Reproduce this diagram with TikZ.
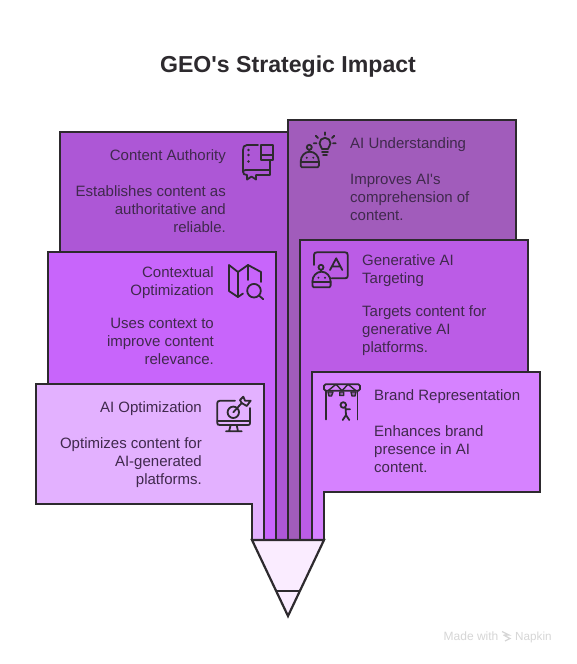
\documentclass[tikz,border=0pt]{standalone}
\usepackage{fontspec}
\setmainfont{Liberation Sans}[Ligatures=TeXOff]
\definecolor{ink}{HTML}{2D2A2E}
\definecolor{txt}{HTML}{40294D}
\definecolor{cAuth}{HTML}{AD57D6}
\definecolor{cUnder}{HTML}{A15CBB}
\definecolor{cCtx}{HTML}{C865FB}
\definecolor{cGen}{HTML}{BB5CE6}
\definecolor{cOpt}{HTML}{E3B1FF}
\definecolor{cBrand}{HTML}{D682FF}
\definecolor{cTip}{HTML}{FAECFF}
\tikzset{
  panel/.style={draw=ink,line width=2.2pt,line join=miter},
  icon/.style={draw=ink,line width=1.8pt,line cap=round,line join=round},
  lbl/.style={inner sep=0pt,yshift=0.6pt,text=txt,font=\fontsize{15}{18}\selectfont},
  lblr/.style={lbl,anchor=north east,align=right},
  lbll/.style={lbl,anchor=north west,align=left},
  robot/.pic={
    \draw[icon] (0,9.8) arc[start angle=180,end angle=360,x radius=9.1,y radius=9.8] -- (18.2,14) -- (17,15.6) -- (1.2,15.6) -- (0,14) -- cycle;
    \draw[icon] (0,10) -- (18.2,10);
    \fill[ink] (6,6) circle (1.1) (12.6,6) circle (1.1);
    \draw[icon] (8.6,-4.4) circle (2.5) (8.6,-1.9) -- (8.6,0);
  }
}
\begin{document}
\begin{tikzpicture}[x=1pt,y=-1pt]
\useasboundingbox[fill=white] (0,0) rectangle (576,664);
\node[inner sep=0pt,text=ink,font=\fontsize{23.1}{28}\selectfont\bfseries] (title) at (288,67) {GEO's Strategic Impact};
% panels
\draw[panel,fill=cAuth] (60,132) -- (288,132) -- (288,540) -- (276,540) -- (276,372) -- (60,372) -- cycle;
\draw[panel,fill=cUnder] (288,120) -- (516,120) -- (516,360) -- (300,360) -- (300,540) -- (288,540) -- cycle;
\draw[panel,fill=cCtx] (48,252) -- (276,252) -- (276,540) -- (264,540) -- (264,492) -- (48,492) -- cycle;
\draw[panel,fill=cGen] (300,240) -- (528,240) -- (528,480) -- (312,480) -- (312,540) -- (300,540) -- cycle;
\draw[panel,fill=cOpt] (36,384) -- (264,384) -- (264,540) -- (252,540) -- (252,504) -- (36,504) -- cycle;
\draw[panel,fill=cBrand] (312,372) -- (540,372) -- (540,492) -- (324,492) -- (324,540) -- (312,540) -- cycle;
% tip
\draw[panel,fill=cTip] (252,540) -- (324,540) -- (288,616) -- cycle;
\draw[panel] (276,590.7) -- (300,590.7);
% texts
\node[lblr] (a1) at (226,150.5) {Content Authority};
\node[lblr] (a2) at (226,186.5) {Establishes content as\\authoritative and\\reliable.};
\node[lblr] (b1) at (214,267.5) {Contextual\\Optimization};
\node[lblr] (b2) at (214,318.5) {Uses context to\\improve content\\relevance.};
\node[lblr] (c1) at (202,402.5) {AI Optimization};
\node[lblr] (c2) at (202,438.5) {Optimizes content for\\AI-generated\\platforms.};
\node[lbll] (d1) at (350,138.5) {AI Understanding};
\node[lbll] (d2) at (350,174.5) {Improves AI's\\comprehension of\\content.};
\node[lbll] (e1) at (362,255.5) {Generative AI\\Targeting};
\node[lbll] (e2) at (362,306.5) {Targets content for\\generative AI\\platforms.};
\node[lbll] (f1) at (374,390.5) {Brand Representation};
\node[lbll] (f2) at (374,426.5) {Enhances brand\\presence in AI\\content.};
% book icon
\draw[icon] (258,145) -- (247,145) .. controls (244,145) and (243,147) .. (243,150) -- (243,171) .. controls (243,174) and (244,175) .. (247,175) -- (247,179.5) -- (251.5,176.5) -- (256,179.5) -- (256,175) -- (270,175) -- (270,160);
\draw[icon] (243,172) .. controls (243,170.5) and (244,170) .. (246,170) -- (270,170);
\draw[icon] (261,145) -- (273,145) -- (273,160) -- (261,160) -- cycle (261,155) -- (273,155);
\fill[ink] (248.5,150) circle (1.3) (248.5,155) circle (1.3) (248.5,161.5) circle (1.3);
% map icon
\draw[icon] (248,265) -- (238,272) -- (229,265) -- (229,291) -- (238,297) -- (243,293.5);
\draw[icon] (238,272) -- (238,297) (248,265) -- (248,280) (248,265) -- (261,272) -- (261,282);
\draw[icon] (254,290.7) circle (6.8) (259,295.5) -- (263.3,299.3);
% target monitor icon
\draw[icon] (235,400.7) -- (220,400.7) .. controls (218,400.7) and (217.3,402) .. (217.3,403) -- (217.3,423) .. controls (217.3,424.5) and (218,425) .. (220,425) -- (248,425) .. controls (249.5,425) and (250,424.5) .. (250,423) -- (250,408);
\draw[icon] (217.3,421) -- (250,421) (230.7,425) -- (229,431.3) (236.7,425) -- (238,431.3) (226,431.3) -- (241.7,431.3);
\draw[icon] (233.3,412.3) circle (5.7) (233.3,412.3) -- (241.7,403);
\draw[icon] (241.7,403) -- (240,400) -- (243.3,396.7) -- (245,400.7) -- (250.7,400.7) -- (246.7,406) -- cycle;
% robot + bulb
\pic at (300.7,151.7) {robot};
\draw[icon] (322,149) .. controls (322,146.5) and (319.5,146.5) .. (319.5,143.3) arc[start angle=180,end angle=360,radius=5.5] .. controls (330.5,146.5) and (328,146.5) .. (328,149) -- cycle;
\draw[icon] (322,151.8) -- (328,151.8) (323,155) -- (327,155);
\draw[icon] (325,132.3) -- (325,135) (315.7,135.7) -- (318,138) (334.3,135.7) -- (332,138) (313.7,143.3) -- (316.5,143.3) (333,143.3) -- (335.7,143.3);
% robot + A
\pic at (312.4,271.7) {robot};
\draw[icon] (314,265) -- (314,255) .. controls (314,253) and (315,252.3) .. (317,252.3) -- (345,252.3) .. controls (347,252.3) and (347.7,253) .. (347.7,255) -- (347.7,276) .. controls (347.7,277.5) and (347,278.3) .. (345,278.3) -- (331.7,278.3);
\draw[icon] (330,270) -- (336.2,258.3) -- (342.3,270) (332,266.5) -- (340.5,266.5);
% stage icon
\draw[icon,rounded corners=1.5pt] (324,384.3) rectangle (360,390.7);
\draw[icon,line width=1.4pt] (328,390.7) -- (336,384.3) -- (342,390.7) -- (348,384.3) -- (356,390.7);
\draw[icon] (326,390.7) -- (326,419.5) (357.5,390.7) -- (357.5,419.5);
\draw[icon,fill=ink!40!cBrand,line width=1.4pt] (328,392) -- (333,392) -- (331.5,396) -- (329,396) -- cycle (339.7,395.5) -- (339.7,392) -- (343.7,392) -- (343.7,395.5) -- cycle (351,392) -- (356,392) -- (355,396) -- (352,396) -- cycle;
\draw[icon] (343.3,405) circle (2.8) (345.5,407) -- (346,415) -- (342.7,420) (346,415) -- (349.3,420) (346,409.3) -- (350,409.3);
% watermark
\node[inner sep=0pt,anchor=base west,text=black!16,font=\fontsize{12}{12}\selectfont] (wm1) at (443.5,640) {Made with};
\draw[black!16,line width=1.2pt] (502,631.5) -- (509,635) -- (503.5,635) (503.5,635) -- (510,638.5) -- (505,641);
\node[inner sep=0pt,anchor=base west,text=black!16,font=\fontsize{11.7}{12}\selectfont] (wm2) at (515,640) {Napkin};
\end{tikzpicture}
\end{document}
